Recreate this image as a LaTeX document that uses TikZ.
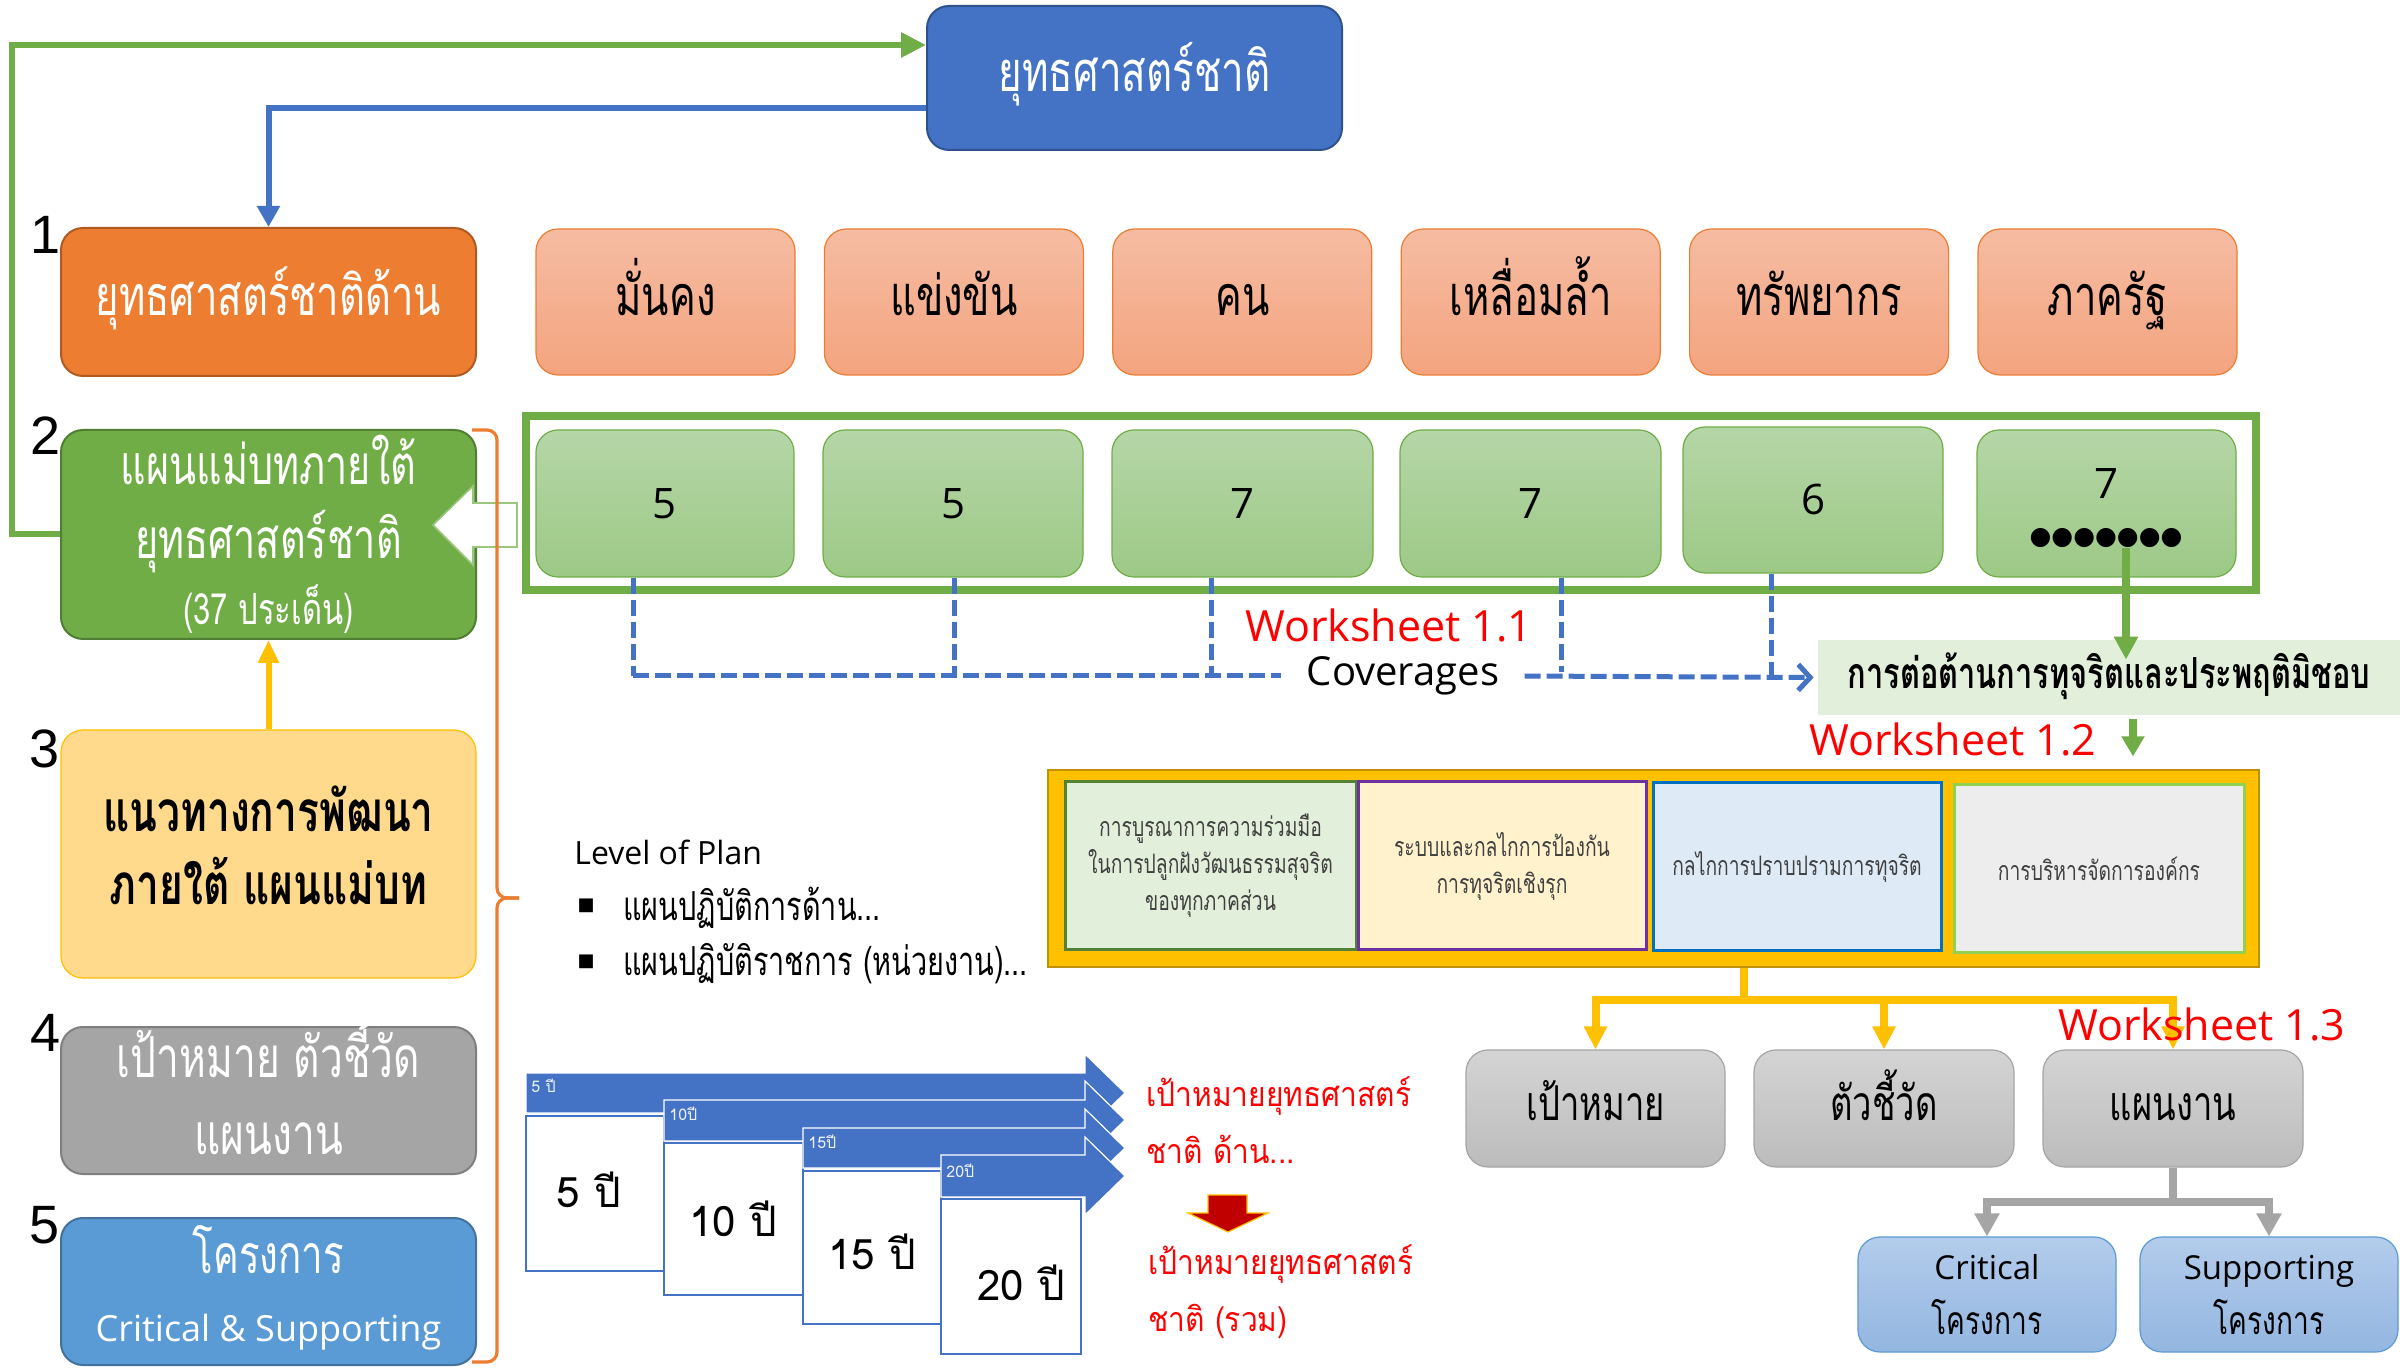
\documentclass[tikz,border=0pt]{standalone}
\usepackage{fontspec}
\setmainfont{Open Sans}
\newfontfamily\thai[Script=Thai]{Loma}
\newfontfamily\thaim[Script=Thai,FakeStretch=0.88]{Loma}
\newfontfamily\thaic[Script=Thai,FakeStretch=0.72]{Loma}
\newfontfamily\sym{DejaVu Sans}
\newfontfamily\numf{Liberation Sans}
\usetikzlibrary{arrows.meta,calc}
\definecolor{cBlue}{HTML}{4472C4}\definecolor{cBlueD}{HTML}{2F528F}
\definecolor{cOr}{HTML}{ED7D31}\definecolor{cOrD}{HTML}{AE5A21}
\definecolor{cSalT}{HTML}{F5BCA2}\definecolor{cSalB}{HTML}{F4A47F}
\definecolor{cGr}{HTML}{70AD47}\definecolor{cGrD}{HTML}{507E32}
\definecolor{cLGT}{HTML}{B5D6A7}\definecolor{cLGB}{HTML}{9DC986}
\definecolor{cYel}{HTML}{FFD98C}\definecolor{cGold}{HTML}{FFC000}\definecolor{cGoldD}{HTML}{BF9000}
\definecolor{cGrey}{HTML}{A5A5A5}\definecolor{cGreyD}{HTML}{7F7F7F}
\definecolor{cSky}{HTML}{5B9BD5}\definecolor{cSkyD}{HTML}{41719C}
\definecolor{cBand}{HTML}{E2EFDA}
\definecolor{cGpT}{HTML}{D4D4D4}\definecolor{cGpB}{HTML}{BCBCBC}
\definecolor{cLbT}{HTML}{B3CCEB}\definecolor{cLbB}{HTML}{93B6E0}
\definecolor{cTxt}{HTML}{404040}
\definecolor{cRedD}{HTML}{C00000}
\definecolor{cAd}{HTML}{548235}\definecolor{cBf}{HTML}{FFF2CC}\definecolor{cBd}{HTML}{7030A0}
\definecolor{cCf}{HTML}{DEEBF7}\definecolor{cCd}{HTML}{0070C0}\definecolor{cDf}{HTML}{EDEDED}\definecolor{cDd}{HTML}{92D050}
\newcommand\fs[2]{\fontsize{#1}{#2}\selectfont}
\newcommand\bx[7]{\pgfmathsetmacro\myW{((#4)-(#2))*0.5}\pgfmathsetmacro\myH{((#5)-(#3))*0.5}%
  \node[#6,minimum width=\myW pt,minimum height=\myH pt] (#1) at ({((#2)+(#4))/2},{((#3)+(#5))/2}) {#7};}
\tikzset{
  rbox/.style={rounded corners=11pt, draw, align=center, inner sep=1pt},
  topbox/.style={rbox, fill=cBlue, draw=cBlueD, line width=1pt, text=white, font=\thaic\fs{28}{30}, text height=22.4pt, text depth=8.4pt},
  obox/.style={rbox, fill=cOr, draw=cOrD, line width=1pt, text=white, font=\thaic\fs{27.8}{30}, text height=22.2pt, text depth=8.3pt},
  sbox/.style={rbox, top color=cSalT, bottom color=cSalB, draw=cOr, line width=0.6pt, font=\thaic\fs{27.8}{30}, text height=22.2pt, text depth=8.3pt},
  gbox/.style={rbox, fill=cGr, draw=cGrD, line width=1pt, text=white, font=\thaic\fs{27.5}{37}},
  ybox/.style={rbox, fill=cYel, draw=cGold, line width=0.6pt},
  greybox/.style={rbox, fill=cGrey, draw=cGreyD, line width=1pt},
  skybox/.style={rbox, fill=cSky, draw=cSkyD, line width=1pt, text=white, font=\thaic\fs{26.7}{34}},
  lgbox/.style={rbox, top color=cLGT, bottom color=cLGB, draw=cGr, line width=0.6pt, font=\fs{21}{26}},
  gpbox/.style={rbox, top color=cGpT, bottom color=cGpB, draw=cGrey, line width=0.6pt, font=\thaic\fs{24}{26}, text height=19.2pt, text depth=7.2pt},
  lbbox/.style={rbox, top color=cLbT, bottom color=cLbB, draw=cSky, line width=0.6pt, font=\fs{16.5}{27.5}},
  ibox/.style={draw, line width=1.5pt, align=center, inner sep=1pt, text=cTxt, font=\thaic\fs{13.4}{18.5}},
  numlbl/.style={font=\numf\fs{27}{30}, inner sep=0pt},
  ws/.style={text=red, font=\fs{21.5}{24}, inner sep=0pt},
  redt/.style={text=red, font=\thaim\fs{17}{28.5}, align=left, inner sep=0pt, anchor=west},
  gline/.style={draw=cGr, line width=3pt},
  bline/.style={draw=cBlue, line width=3pt},
  yline/.style={draw=cGold, line width=4pt},
  gyline/.style={draw=cGrey, line width=4pt},
  dline/.style={draw=cBlue, line width=2.5pt, dash pattern=on 8pt off 3pt},
  band/.style={fill=cBlue, draw=white, line width=0.6pt},
  yrbox/.style={draw=cBlue, line width=1pt, fill=white},
  yrtxt/.style={font=\thai\fs{21}{24}, inner sep=0pt},
  smtxt/.style={font=\thai\fs{8}{9}, text=white!90!cBlue, inner sep=0pt, anchor=west},
}
\begin{document}
\begin{tikzpicture}[x=0.5pt,y=-0.5pt]
\useasboundingbox (0,0) rectangle (2400,1368);
\fill[white] (0,0) rectangle (2400,1368);

% ---------- top box ----------
\bx{nat}{927}{6}{1342}{150}{topbox}{ยุทธศาสตร์ชาติ}

% ---------- left column ----------
\bx{L1}{61}{228}{476}{376}{obox}{ยุทธศาสตร์ชาติด้าน}
\bx{L2}{61}{430}{476}{639}{gbox}{แผนแม่บทภายใต้\\ยุทธศาสตร์ชาติ\\[-4pt]{\fs{21.5}{20}(37 ประเด็น)}}
\bx{L3}{61}{730}{476}{978}{ybox}{}
\node[align=center, inner sep=0pt, font=\thaic\bfseries\fs{28.3}{36.5}] (L3t) at ($(L3.center)+(0,-9)$) {แนวทางการพัฒนา\\ภายใต้ แผนแม่บท};
\bx{L4}{61}{1027}{476}{1174}{greybox}{}
\node[align=center, inner sep=0pt, text=white, font=\thaic\fs{28.3}{38.5}] (L4t) at ($(L4.center)+(0,-14)$) {เป้าหมาย ตัวชี้วัด\\แผนงาน};
\bx{L5}{61}{1218}{476}{1365}{skybox}{}
\node[align=center, inner sep=0pt, text=white, font=\thaic\fs{26.7}{34}] (L5t) at ($(L5.center)+(0,-4)$) {โครงการ\\{\rmfamily\fs{18}{20}Critical \& Supporting}};

\node[numlbl] (n1) at (46,235) {1};
\node[numlbl] (n2) at (46,436) {2};
\node[numlbl] (n3) at (45,749) {3};
\node[numlbl] (n4) at (46,1033) {4};
\node[numlbl] (n5) at (45,1225) {5};

% ---------- connectors top ----------
\draw[gline,-{Triangle[length=12.5pt,width=12pt]}] (L2.west) -| (12,45) -- (nat.west |- 0,45);
\draw[bline,-{Triangle[length=10.5pt,width=11pt]}] (nat.west |- 0,108) -| (L1.north);
\draw[draw=cGold,line width=3pt,-{Triangle[length=11.5pt,width=10pt]}] (L3.north) -- (L2.south);

% ---------- salmon boxes ----------
\foreach \i/\t in {0/มั่นคง,1/แข่งขัน,2/คน,3/เหลื่อมล้ำ,4/ทรัพยากร,5/ภาครัฐ}{
  \bx{s\i}{536+288.4*\i}{229}{795+288.4*\i}{375}{sbox}{\t}
}

% ---------- green frame + boxes ----------
\bx{frame}{526}{416}{2256}{590}{draw=cGr, line width=4pt}{}
\bx{g1}{536}{430}{794}{577}{lgbox}{5}
\bx{g2}{823}{430}{1083}{577}{lgbox}{5}
\bx{g3}{1112}{430}{1373}{577}{lgbox}{7}
\bx{g4}{1400}{430}{1661}{577}{lgbox}{7}
\bx{g5}{1683}{427}{1943}{573}{lgbox}{6}
\bx{g6}{1977}{430}{2236}{577}{lgbox}{}
\node[font=\fs{21}{24}, inner sep=0pt] (g6n) at (2106,484) {7};
\node[font=\sym\fs{12.5}{18}, inner sep=0pt] (dots) at (2106,538) {●●●●●●●};

% white block arrow into L2
\filldraw[fill=white, draw=cGr!70, line width=0.8pt] (517,503) -- (473,503) -- (473,486) -- (433,525) -- (473,565) -- (473,547) -- (517,547) -- cycle;

% orange bracket
\draw[cOr, line width=1.6pt, rounded corners=5pt] (472,430) -- (497,430) -- (497,898) -- (519,898);
\draw[cOr, line width=1.6pt, rounded corners=5pt] (519,898) -- (497,898) -- (497,1362) -- (472,1362);

% ---------- coverage ----------
\node[font=\fs{20}{24}, inner xsep=12.5pt, inner ysep=0pt] (cov) at (1403,676) {Coverages};
\node[ws] (ws1) at (1389,625) {Worksheet 1.1};
\bx{corr}{1818}{640}{2400}{715}{fill=cBand, inner sep=0pt, font=\thaic\bfseries\fs{21.4}{22}, text height=17pt, text depth=6.4pt}{การต่อต้านการทุจริตและประพฤติมิชอบ}
\coordinate (hl) at (633,676);
\draw[dline] (g1.south -| 633,0) -- (hl);
\draw[dline] (g2.south -| 954,0) -- (954,676);
\draw[dline] (g3.south -| 1211,0) -- (1211,676);
\draw[dline] (g4.south -| 1561,0) -- (1561,672);
\draw[dline] (g5.south -| 1771,0) -- (1771,676);
\draw[dline] (hl) -- (cov.west);
\draw[dline,-{Straight Barb[length=6pt,width=13pt,line width=2.5pt]}] (cov.east) -- ($(corr.west)+(-4,0)$);

\draw[draw=cGr,line width=4pt,-{Triangle[length=11.5pt,width=11.5pt]}] (dots.south -| 2126,0) -- ($(corr.north -| 2126,0)+(0,20)$);
\node[ws] (ws2) at (1953,739) {Worksheet 1.2};
\draw[draw=cGr,line width=4pt,-{Triangle[length=10pt,width=11pt]}] ($(corr.south -| 2133,0)+(0,4)$) -- ($(corr.south -| 2133,0)+(0,41)$);

% ---------- gold container ----------
\bx{gold}{1048}{770}{2259}{967}{draw=cGoldD, fill=cGold, line width=1.2pt}{}
\bx{iA}{1065}{782}{1356}{950}{ibox, fill=cBand, draw=cAd}{การบูรณาการความร่วมมือ\\ในการปลูกฝังวัฒนธรรมสุจริต\\ของทุกภาคส่วน}
\bx{iB}{1358}{782}{1646}{950}{ibox, fill=cBf, draw=cBd}{ระบบและกลไกการป้องกัน\\การทุจริตเชิงรุก}
\bx{iC}{1653}{783}{1941}{951}{ibox, fill=cCf, draw=cCd}{กลไกการปราบปรามการทุจริต}
\bx{iD}{1954}{785}{2244}{953}{ibox, fill=cDf, draw=cDd}{การบริหารจัดการองค์กร}

% ---------- grey boxes ----------
\bx{p1}{1466}{1050}{1725}{1167}{gpbox}{เป้าหมาย}
\bx{p2}{1754}{1050}{2014}{1167}{gpbox}{ตัวชี้วัด}
\bx{p3}{2043}{1050}{2303}{1167}{gpbox}{แผนงาน}
\coordinate (yj) at (1744,1000);
\draw[yline] (gold.south -| yj) -- (yj);
\draw[yline,-{Triangle[length=11.5pt,width=11pt]}] (yj) -| (p1.north);
\draw[yline,-{Triangle[length=11.5pt,width=11pt]}] (yj) -| (p2.north);
\draw[yline,-{Triangle[length=11.5pt,width=11pt]}] (yj) -| (p3.north);
\node[ws] (ws3) at (2202,1024) {Worksheet 1.3};

\bx{q1}{1858}{1237}{2116}{1352}{lbbox}{Critical\\{\thaic\fs{19.5}{24}โครงการ}}
\bx{q2}{2140}{1237}{2398}{1352}{lbbox}{Supporting\\{\thaic\fs{19.5}{24}โครงการ}}
\coordinate (gj) at (2173,1202);
\draw[gyline] (p3.south) -- (gj);
\draw[gyline,-{Triangle[length=11.5pt,width=12pt]}] (gj) -| (q1.north);
\draw[gyline,-{Triangle[length=11.5pt,width=12pt]}] (gj) -| (q2.north);

% ---------- level of plan ----------
\node[font=\fs{16}{20}, anchor=west, inner sep=0pt] (lvl) at (574,852) {Level of Plan};
\node[font=\sym\fs{9}{10}, inner sep=0pt] (b1) at (586,906) {■};
\node[font=\thaic\fs{20}{20}, anchor=west, inner sep=0pt] (t1) at (623,908) {แผนปฏิบัติการด้าน...};
\node[font=\sym\fs{9}{10}, inner sep=0pt] (b2) at (586,962) {■};
\node[font=\thaic\fs{20}{20}, anchor=west, inner sep=0pt] (t2) at (623,964) {แผนปฏิบัติราชการ (หน่วยงาน)...};

% ---------- stacked year arrows ----------
\filldraw[band] (526,1073) -- (1085,1073) -- (1085,1054) -- (1125,1093) -- (1085,1132) -- (1085,1113) -- (526,1113) -- cycle;
\filldraw[yrbox] (526,1116) rectangle (664,1271);
\filldraw[band] (664,1100) -- (1085,1100) -- (1085,1081) -- (1125,1120) -- (1085,1159) -- (1085,1141) -- (664,1141) -- cycle;
\filldraw[yrbox] (664,1143) rectangle (803,1295);
\filldraw[band] (803,1128) -- (1085,1128) -- (1085,1109) -- (1125,1148) -- (1085,1187) -- (1085,1168) -- (803,1168) -- cycle;
\filldraw[yrbox] (803,1171) rectangle (941,1324);
\filldraw[band] (941,1155) -- (1085,1155) -- (1085,1137) -- (1125,1176) -- (1085,1215) -- (1085,1197) -- (941,1197) -- cycle;
\filldraw[yrbox] (941,1199) rectangle (1081,1354);
\node[smtxt] (a1) at (531,1086) {5 ปี};
\node[smtxt] (a2) at (669,1114) {10ปี};
\node[smtxt] (a3) at (808,1142) {15ปี};
\node[smtxt] (a4) at (946,1171) {20ปี};
\node[yrtxt] (y1) at (589,1190) {5 ปี};
\node[yrtxt] (y2) at (733,1219) {10 ปี};
\node[yrtxt] (y3) at (872,1252) {15 ปี};
\node[yrtxt] (y4) at (1021,1283) {20 ปี};

% ---------- red targets ----------
\node[redt] (r1) at (1146,1120) {เป้าหมายยุทธศาสตร์\\ชาติ ด้าน...};
\node[redt] (r2) at (1148,1292) {เป้าหมายยุทธศาสตร์\\ชาติ (รวม)};
\filldraw[fill=cRedD, draw=cGold, line width=0.6pt] (1208,1195) -- (1247,1195) -- (1247,1213) -- (1268,1213) -- (1228,1232) -- (1188,1213) -- (1208,1213) -- cycle;
\end{tikzpicture}
\end{document}
